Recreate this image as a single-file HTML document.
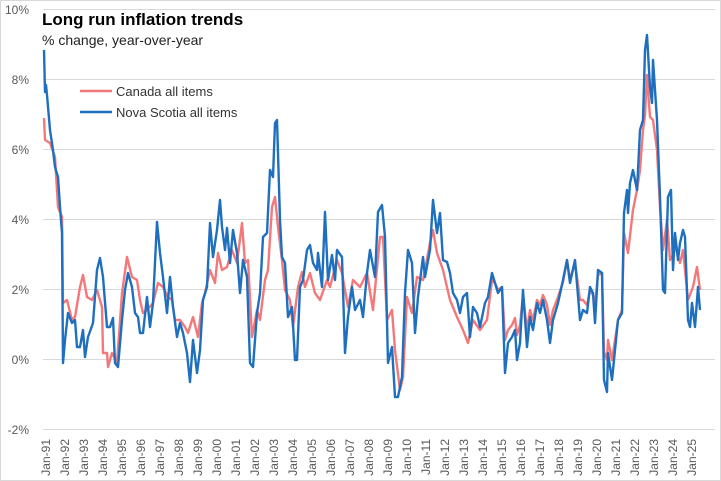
<!DOCTYPE html>
<html><head><meta charset="utf-8"><style>
html,body{margin:0;padding:0;background:#fff;}
svg{display:block;font-family:"Liberation Sans",sans-serif;}
</style></head><body>
<svg width="721" height="481" viewBox="0 0 721 481" xmlns="http://www.w3.org/2000/svg">
<rect x="0.5" y="0.5" width="720" height="480" fill="#fff" stroke="#d9d9d9"/>
<g stroke="#d9d9d9" stroke-width="1">
<line x1="43" x2="715" y1="9.5" y2="9.5"/><line x1="43" x2="715" y1="79.5" y2="79.5"/>
<line x1="43" x2="715" y1="149.5" y2="149.5"/><line x1="43" x2="715" y1="219.5" y2="219.5"/>
<line x1="43" x2="715" y1="289.5" y2="289.5"/><line x1="43" x2="715" y1="359.5" y2="359.5"/>
<line x1="43" x2="715" y1="429.5" y2="429.5"/>
</g>
<g fill="#595959" font-size="12" text-anchor="end">
<text x="29" y="14">10%</text><text x="29" y="84">8%</text><text x="29" y="154">6%</text>
<text x="29" y="224">4%</text><text x="29" y="294">2%</text><text x="29" y="364">0%</text>
<text x="29" y="434">-2%</text>
</g>
<text x="42" y="25" font-size="17" font-weight="bold" fill="#000">Long run inflation trends</text>
<text x="42" y="45" font-size="14" fill="#222">% change, year-over-year</text>
<line x1="80" x2="112" y1="91" y2="91" stroke="#f4787a" stroke-width="2.4"/>
<text x="116" y="96" font-size="13" fill="#333">Canada all items</text>
<line x1="80" x2="112" y1="112" y2="112" stroke="#1f6fbf" stroke-width="2.4"/>
<text x="116" y="117" font-size="13" fill="#333">Nova Scotia all items</text>
<polyline fill="none" stroke="#f4787a" stroke-width="2.4" stroke-linejoin="round" points="44,118 45,140 50,143 55,157 58,207 62,217 63,303 67,300 72,320 75,317 80,287 83,275 87,297 92,300 97,290 102,307 103,353 107,353 108,367 112,353 117,363 122,293 127,257 132,277 137,280 140,300 143,313 147,310 153,303 158,283 163,287 168,297 172,300 175,320 180,320 185,327 188,333 193,317 198,337 202,303 205,293 210,270 215,283 218,253 222,270 227,267 232,250 237,263 242,223 245,263 248,260 252,337 257,310 260,320 265,280 268,270 272,207 275,197 278,227 282,260 285,290 290,300 293,327 298,287 302,272 305,287 310,273 315,293 320,300 327,280 330,287 337,260 342,273 348,307 353,280 360,287 367,273 373,310 380,237 383,237 387,320 392,310 395,350 400,390 403,377 407,297 412,313 417,277 423,280 430,243 433,230 437,253 443,270 450,300 457,317 463,330 468,343 473,320 480,330 487,320 492,280 495,283 498,290 502,287 505,340 508,330 512,325 515,318 517,335 520,325 523,295 527,330 530,310 533,320 537,300 540,305 543,295 547,305 550,325 553,310 558,297 563,282 567,260 570,280 575,262 580,300 583,300 587,305 590,290 593,295 595,305 598,275 602,273 604,352 607,360 608,340 612,360 615,340 618,320 622,310 624,233 628,253 633,210 637,190 640,170 643,130 645,115 647,75 650,117 653,120 657,150 660,207 663,250 667,220 670,260 673,255 675,245 680,263 683,250 688,300 693,287 697,267 700,290"/>
<polyline fill="none" stroke="#1f6fbf" stroke-width="2.4" stroke-linejoin="round" points="44,50 45,92 46,85 47,95 50,130 53,150 55,167 58,177 60,207 62,233 63,363 65,340 68,313 72,323 75,320 77,347 80,347 83,330 85,357 88,337 93,323 97,270 100,258 103,277 107,327 110,327 113,318 115,363 118,367 122,320 125,290 128,273 132,287 135,313 138,317 140,333 143,333 147,297 150,327 153,303 157,222 160,253 163,277 167,313 170,277 173,307 177,337 180,323 183,333 187,353 190,382 193,340 197,373 200,350 203,300 207,287 210,223 213,257 217,230 220,200 222,227 225,250 227,228 230,263 233,230 237,253 240,293 243,260 247,277 250,363 253,367 257,313 260,293 263,237 267,233 270,170 273,177 275,123 277,120 280,220 282,257 285,263 288,317 292,307 295,360 297,360 300,287 303,280 307,250 310,245 313,263 317,270 318,253 322,287 325,212 328,280 332,255 335,280 337,250 342,257 345,353 348,317 352,287 355,310 360,300 363,317 367,273 370,250 375,277 378,212 382,205 385,237 388,363 392,347 395,397 398,397 402,377 405,293 408,250 412,263 415,333 418,297 423,257 425,277 430,250 433,200 437,233 440,213 443,260 447,262 450,273 453,293 457,300 460,313 463,297 467,293 470,337 473,307 477,313 480,327 485,303 488,297 492,273 495,283 498,293 502,287 505,373 508,343 512,337 515,330 517,360 520,343 523,290 527,347 530,317 533,330 537,303 540,313 543,300 547,320 550,343 553,320 558,303 563,280 567,260 570,283 575,260 580,320 583,310 587,313 590,287 593,293 595,323 598,270 602,273 604,380 607,392 608,353 612,380 615,350 618,320 622,313 624,213 627,190 628,213 630,183 633,170 637,190 640,130 643,120 645,50 647,35 650,87 652,103 653,60 657,120 660,197 663,290 665,293 668,197 671,190 673,270 675,233 678,260 680,243 683,230 685,237 688,320 690,327 692,303 695,327 698,287 700,310"/>
<g fill="#595959" font-size="12" text-anchor="end">
<text transform="translate(50,439) rotate(-90)">Jan-91</text><text transform="translate(69,439) rotate(-90)">Jan-92</text><text transform="translate(88,439) rotate(-90)">Jan-93</text><text transform="translate(107,439) rotate(-90)">Jan-94</text><text transform="translate(126,439) rotate(-90)">Jan-95</text><text transform="translate(145,439) rotate(-90)">Jan-96</text><text transform="translate(164,439) rotate(-90)">Jan-97</text><text transform="translate(183,439) rotate(-90)">Jan-98</text><text transform="translate(202,439) rotate(-90)">Jan-99</text><text transform="translate(221,439) rotate(-90)">Jan-00</text><text transform="translate(240,439) rotate(-90)">Jan-01</text><text transform="translate(259,439) rotate(-90)">Jan-02</text><text transform="translate(278,439) rotate(-90)">Jan-03</text><text transform="translate(297,439) rotate(-90)">Jan-04</text><text transform="translate(316,439) rotate(-90)">Jan-05</text><text transform="translate(335,439) rotate(-90)">Jan-06</text><text transform="translate(354,439) rotate(-90)">Jan-07</text><text transform="translate(373,439) rotate(-90)">Jan-08</text><text transform="translate(392,439) rotate(-90)">Jan-09</text><text transform="translate(411,439) rotate(-90)">Jan-10</text><text transform="translate(430,439) rotate(-90)">Jan-11</text><text transform="translate(449,439) rotate(-90)">Jan-12</text><text transform="translate(468,439) rotate(-90)">Jan-13</text><text transform="translate(487,439) rotate(-90)">Jan-14</text><text transform="translate(506,439) rotate(-90)">Jan-15</text><text transform="translate(525,439) rotate(-90)">Jan-16</text><text transform="translate(544,439) rotate(-90)">Jan-17</text><text transform="translate(563,439) rotate(-90)">Jan-18</text><text transform="translate(582,439) rotate(-90)">Jan-19</text><text transform="translate(601,439) rotate(-90)">Jan-20</text><text transform="translate(620,439) rotate(-90)">Jan-21</text><text transform="translate(639,439) rotate(-90)">Jan-22</text><text transform="translate(658,439) rotate(-90)">Jan-23</text><text transform="translate(677,439) rotate(-90)">Jan-24</text><text transform="translate(696,439) rotate(-90)">Jan-25</text>
</g>
</svg>
</body></html>
